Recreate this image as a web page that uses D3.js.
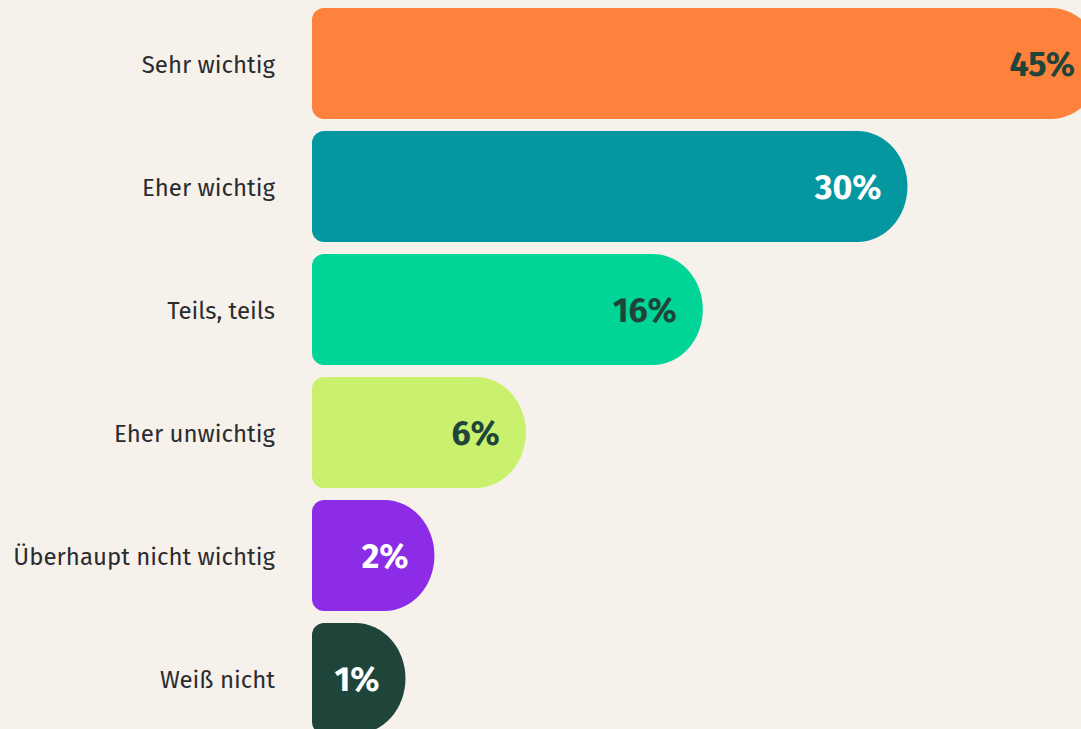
<!DOCTYPE html>
<html>
<head>
<meta charset="utf-8">
<script src="https://cdn.jsdelivr.net/npm/d3@7"></script>
<style>
  html, body { margin: 0; padding: 0; background: #f6f1eb; overflow: hidden; }
</style>
</head>
<body>
<div id="canvas"></div>
<script>
"use strict"

/* Chart size */
let svgWidth = 1081;
let svgHeight = 729;

/* Data */
let categories = ["Sehr wichtig", "Eher wichtig", "Teils, teils", "Eher unwichtig", "Überhaupt nicht wichtig", "Weiß nicht"];
let values = [45, 30, 16, 6, 2, 1];
let valueLabels = ["45%", "30%", "16%", "6%", "2%", "1%"];
let barColors = ["#ff823c", "#05979f", "#00d496", "#c9f16d", "#8c2ce6", "#1f453b"];
let textColors = ["#1f453b", "#ffffff", "#1f453b", "#1f453b", "#ffffff", "#ffffff"];

let barLeft = 312;
let labelRight = 275;

let svg = d3.select("#canvas")
    .append("svg")
    .attr("width", svgWidth)
    .attr("height", svgHeight);

svg.append("rect")
    .attr("width", svgWidth)
    .attr("height", svgHeight)
    .attr("fill", "#f6f1eb");

/* Scales: bar right end in x, band per category in y */
let xScale = d3.scalePow()
    .exponent(0.75)
    .domain([0, 45])
    .range([363, 1101]);

let yScale = d3.scaleBand()
    .domain(categories)
    .range([8, 734])
    .paddingInner(12 / 123)
    .paddingOuter(0);

/* Bar shape: small rounded left corners, half-ellipse right end */
function barPath(x0, x1, y0, h) {
    let r = 12;
    let rx = 50;
    let ry = h / 2;
    let y1 = y0 + h;
    return "M" + (x0 + r) + "," + y0 +
        "H" + (x1 - rx) +
        "A" + rx + "," + ry + " 0 0 1 " + (x1 - rx) + "," + y1 +
        "H" + (x0 + r) +
        "A" + r + "," + r + " 0 0 1 " + x0 + "," + (y1 - r) +
        "V" + (y0 + r) +
        "A" + r + "," + r + " 0 0 1 " + (x0 + r) + "," + y0 + "Z";
}

let rows = svg.selectAll("g.row")
    .data(categories)
    .join("g")
    .attr("class", "row");

rows.append("path")
    .attr("d", function (c, i) {
        return barPath(barLeft, xScale(values[i]), yScale(c), yScale.bandwidth());
    })
    .attr("fill", function (c, i) { return barColors[i]; });

/* Category labels */
rows.append("text")
    .attr("x", labelRight)
    .attr("y", function (c) { return yScale(c) + yScale.bandwidth() / 2; })
    .attr("dy", "0.38em")
    .style("text-anchor", "end")
    .style("font-family", "'Fira Sans', 'Noto Sans', sans-serif")
    .style("font-size", "24px")
    .attr("fill", "#2a2c30")
    .text(function (c) { return c; });

/* Value labels inside the bars */
rows.append("text")
    .attr("x", function (c, i) { return xScale(values[i]) - 26; })
    .attr("y", function (c) { return yScale(c) + yScale.bandwidth() / 2; })
    .attr("dy", "0.36em")
    .style("text-anchor", "end")
    .style("font-family", "'Fira Sans', 'Noto Sans', sans-serif")
    .style("font-weight", "bold")
    .style("font-size", "34px")
    .attr("fill", function (c, i) { return textColors[i]; })
    .text(function (c, i) { return valueLabels[i]; });
</script>
</body>
</html>
